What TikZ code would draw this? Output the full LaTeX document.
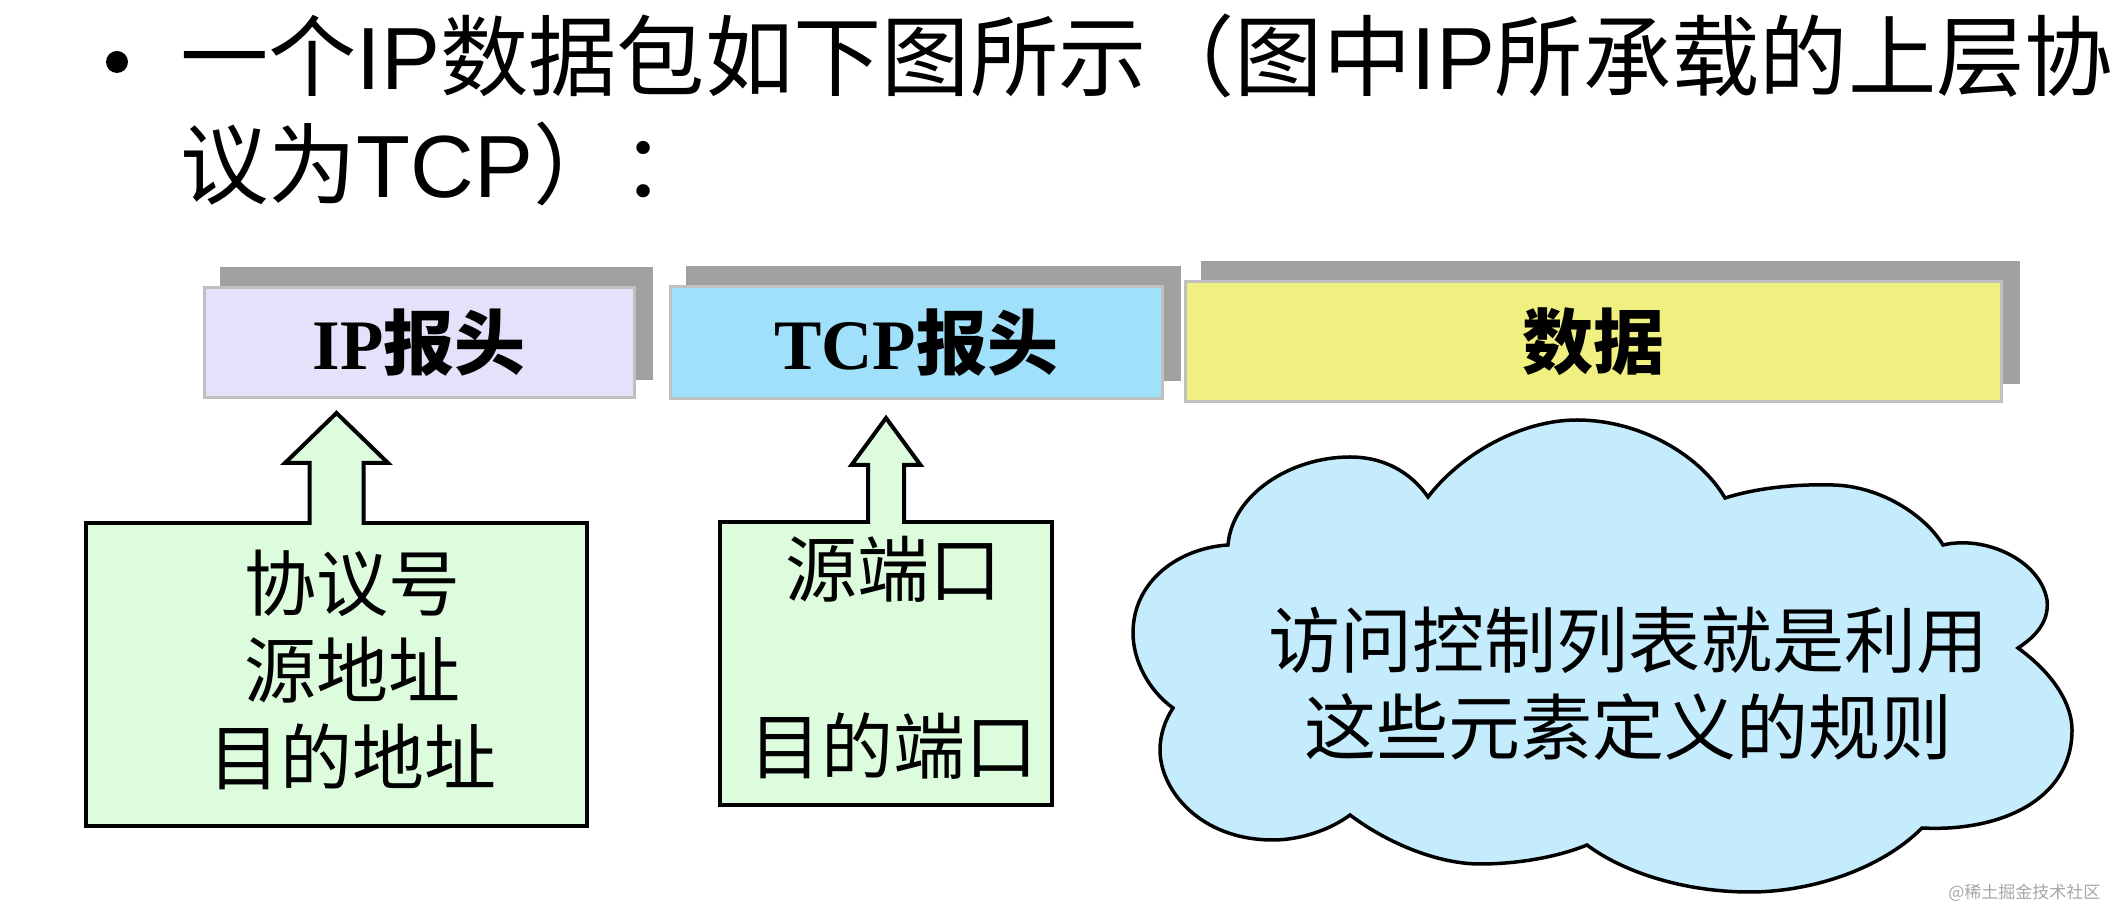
\documentclass[tikz,border=0pt]{standalone}
\usepackage{fontspec}
\setmainfont{Noto Sans CJK SC}
\newfontfamily\latsans{Liberation Sans}
\newfontfamily\latserif{Liberation Serif}
\usetikzlibrary{positioning,calc,backgrounds}

\definecolor{iphead}{RGB}{230,224,250}
\definecolor{tcphead}{RGB}{160,224,250}
\definecolor{datahead}{RGB}{240,240,128}
\definecolor{headshadow}{RGB}{160,160,160}
\definecolor{headborder}{RGB}{192,192,192}
\definecolor{fieldgreen}{RGB}{221,252,221}
\definecolor{cloudblue}{RGB}{196,236,252}

\tikzset{
    dot/.style={
        circle,
        fill=black,
        inner sep=0pt,
        minimum size=22pt
    },
    titletext/.style={
        anchor=base west,
        inner sep=0pt,
        font=\fontsize{88.3}{108}\selectfont
    },
    header/.style={
        draw=headborder,
        line width=3pt,
        minimum height=110pt,
        font=\fontsize{71}{84}\selectfont\bfseries
    },
    fieldbox/.style={
        draw,
        line width=4pt,
        fill=fieldgreen,
        outer sep=0pt
    },
    fieldtext/.style={
        align=center,
        font=\fontsize{72}{87}\selectfont
    },
    arrowline/.style={
        draw,
        line width=4pt
    },
    cloudline/.style={
        draw,
        line width=3.5pt,
        fill=cloudblue
    },
    cloudtext/.style={
        align=center,
        font=\fontsize{72}{87}\selectfont
    },
}

\begin{document}
\begin{tikzpicture}[x=1pt, y=1pt]
    \useasboundingbox (0,0) rectangle (2114,912);

    % title
    \node[dot] (bullet) at (117,850) {};
    \node[titletext] (title1) at (180,822) {一个{\latsans IP}数据包如下图所示（图中{\latsans IP}所承载的上层协};
    \node[titletext] (title2) at (180,714) {议为{\latsans TCP}）：};

    % packet headers
    \node[header, fill=iphead, minimum width=430pt] (iphead) at (419,569) {{\latserif IP}报头};
    \node[header, fill=tcphead, minimum width=492pt, minimum height=112pt] (tcphead) at (916,569) {{\latserif TCP}报头};
    \node[header, fill=datahead, minimum width=816pt, minimum height=120pt] (datahead) at (1593,570) {数据};
    \begin{scope}[on background layer]
        \foreach \h in {iphead, tcphead, datahead}
            \fill[headshadow] ($(\h.south west)+(17,19)$) rectangle ($(\h.north east)+(17,19)$);
    \end{scope}

    % fields
    \node[fieldbox, minimum width=501pt, minimum height=303pt] (ipfield) at (336.5,237.5) {};
    \node[fieldtext] (iptext) at (352,242) {协议号\\源地址\\目的地址};
    \node[fieldbox, minimum width=332pt, minimum height=283pt] (tcpfield) at (886,248.5) {};
    \node[fieldtext] (tcptext) at (893,254) {源端口\\[90pt]目的端口};

    \begin{scope}[shift={(ipfield.north)}]
        \fill[fieldgreen] (-27,-2.5) |- (-51.5,60) -- (0,110) -- (51.5,60) -| (27,-2.5) -- cycle;
        \draw[arrowline] (-27,-2) |- (-51.5,60) -- (0,110) coordinate (iptip) -- (51.5,60) -| (27,-2);
    \end{scope}
    \begin{scope}[shift={(tcpfield.north)}]
        \fill[fieldgreen] (-18,-2.5) |- (-34.5,57) -- (0,104) -- (34.5,57) -| (18,-2.5) -- cycle;
        \draw[arrowline] (-18,-2) |- (-34.5,57) -- (0,104) coordinate (tcptip) -- (34.5,57) -| (18,-2);
    \end{scope}

    % cloud
    \draw[cloudline] (1228,367) .. controls (1232,417) and (1290,455) .. (1350,455)
        .. controls (1390,455) and (1415,434) .. (1428,415)
        .. controls (1460,457) and (1520,492) .. (1577,492)
        .. controls (1640,492) and (1700,457) .. (1725,414)
        .. controls (1760,425) and (1800,428) .. (1833,427)
        .. controls (1880,426) and (1925,397) .. (1943,367)
        .. controls (1985,377) and (2040,352) .. (2047,312)
        .. controls (2050,287) and (2030,272) .. (2018,264)
        .. controls (2055,237) and (2072,207) .. (2072,182)
        .. controls (2072,112) and (2000,80) .. (1922,84)
        .. controls (1880,42) and (1810,20) .. (1750,20)
        .. controls (1680,20) and (1620,42) .. (1587,67)
        .. controls (1555,54) and (1515,48) .. (1480,48)
        .. controls (1440,48) and (1390,67) .. (1350,97)
        .. controls (1330,82) and (1300,72) .. (1273,72)
        .. controls (1200,72) and (1160,122) .. (1160,162)
        .. controls (1160,177) and (1165,192) .. (1173,204)
        .. controls (1148,222) and (1133,252) .. (1133,279)
        .. controls (1133,332) and (1180,364) .. cycle;
    \node[cloudtext] (acltext) at (1628,228) {访问控制列表就是利用\\这些元素定义的规则};

    \node[anchor=east, text=black!35, font=\fontsize{17}{20}\selectfont] (mark) at (2104,19) {@稀土掘金技术社区};
\end{tikzpicture}
\end{document}
